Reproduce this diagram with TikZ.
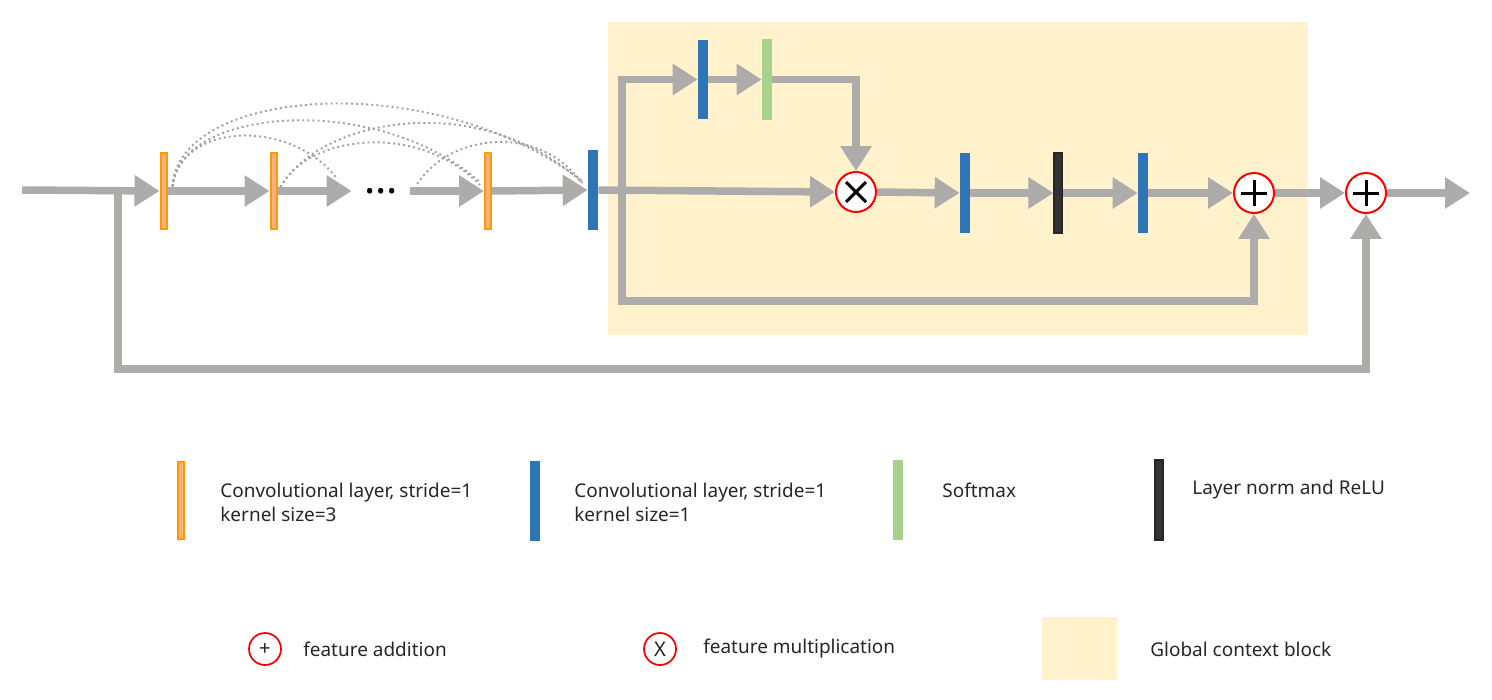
\documentclass[tikz,border=0pt]{standalone}
\usepackage{fontspec}
\setmainfont{Noto Sans}
\usetikzlibrary{arrows.meta}

\definecolor{flowgray}{RGB}{174,171,171}
\definecolor{skipgray}{RGB}{160,160,160}
\definecolor{convorange}{RGB}{255,153,0}
\definecolor{convlight}{RGB}{244,177,131}
\definecolor{pwblue}{RGB}{46,117,182}
\definecolor{softgreen}{RGB}{169,209,142}
\definecolor{normblack}{RGB}{51,51,51}
\definecolor{gcbeige}{RGB}{255,242,204}
\definecolor{textdark}{RGB}{38,38,38}

\tikzset{
  bar/.style={rectangle, inner sep=0, minimum width=0.2cm, minimum height=1.6cm},
  kthree/.style={bar, draw=convorange, fill=convlight, line width=0.04cm, minimum width=0.12cm, minimum height=1.54cm},
  kone/.style={bar, fill=pwblue},
  softbar/.style={bar, fill=softgreen, minimum height=1.62cm},
  normbar/.style={bar, fill=normblack, draw=black!85, line width=0.6pt, minimum width=0.16cm},
  op/.style={circle, draw=red, fill=white, line width=0.04cm, minimum size=0.8cm, inner sep=0},
  lgop/.style={circle, draw=red, fill=white, line width=0.035cm, minimum size=0.64cm, inner sep=0,
    font=\fontsize{11.5}{12}\selectfont, text=textdark},
  sign/.style={line width=0.06cm, black},
  flow/.style={draw=flowgray, line width=0.15cm, -{Triangle[length=0.5cm, width=0.6cm]}},
  skiparc/.style={draw=skipgray, line width=1.1pt, dash pattern=on 1.1pt off 1.8pt},
  dotsbox/.style={inner sep=0, minimum width=1.16cm, font=\fontsize{24}{24}\selectfont\bfseries},
  legtext/.style={anchor=west, inner sep=0, align=left, text=textdark,
    font=\fontsize{10.8}{13.6}\selectfont}
}

\begin{document}
\begin{tikzpicture}[x=0.02cm, y=-0.02cm]
    \useasboundingbox (0,0) rectangle (1492,700);
    % 1. Global context block background
    \fill[gcbeige] (608,22) rectangle (1308,335);

    % 2. Layers
    \node[kthree] (conv1) at (163.5,191) {};
    \node[kthree] (conv2) at (273.5,191) {};
    \node[dotsbox] (dots) at (381,191) {...};
    \node[kthree] (conv3) at (488,191) {};
    \node[kone] (pw0) at (593,190) {};
    \node[kone] (pwa) at (703,79.5) {};
    \node[softbar] (soft) at (767,79.5) {};
    \node[op] (mul) at (856,192) {};
    \node[kone] (pwb) at (965,193) {};
    \node[normbar] (norm) at (1058,193) {};
    \node[kone] (pwc) at (1143,193) {};
    \node[op] (add1) at (1254,193) {};
    \node[op] (add2) at (1366,193) {};

    \coordinate (in) at (22,190);
    \coordinate (tap) at (118,190);
    \coordinate (low) at (118,369);
    \coordinate (split) at (622,191);
    \coordinate (gclow) at (622,301);
    \coordinate (out) at (1470,193);

    % 3. Dense skip links (dotted)
    \draw[skiparc] ([shift={(0.1cm,0.1cm)}]conv1.east) .. controls (178,88) and (433,66) .. ([shift={(-0.08cm,0.16cm)}]pw0.west);
    \draw[skiparc] ([shift={(0.1cm,0.1cm)}]conv1.east) .. controls (180,106) and (380,92) .. ([shift={(-0.06cm,0.16cm)}]conv3.west);
    \draw[skiparc] ([shift={(0.1cm,0.08cm)}]conv1.east) .. controls (180,122) and (290,118) .. ([shift={(-0.3cm,0.26cm)}]dots.west);
    \draw[skiparc] ([shift={(0.06cm,0.08cm)}]conv2.east) .. controls (320,118) and (480,88) .. ([shift={(-0.1cm,0.14cm)}]pw0.west);
    \draw[skiparc] ([shift={(0.06cm,0.08cm)}]conv2.east) .. controls (310,133) and (420,123) .. ([shift={(-0.08cm,0.12cm)}]conv3.west);
    \draw[skiparc] ([shift={(0.14cm,0.14cm)}]dots.east) .. controls (450,133) and (540,123) .. ([shift={(-0.1cm,0.12cm)}]pw0.west);

    % 4. Main flow
    \draw[flow] (in) -- (conv1.west);
    \draw[flow] (tap) -- (low) -| (add2.south);
    \draw[flow] (conv1.east) -- (conv2.west);
    \draw[flow] (conv2.east) -- (dots.west);
    \draw[flow] (dots.east) -- (conv3.west);
    \draw[flow] (conv3.east) -- (pw0.west);
    \draw[flow] (pw0.east) -- (mul.west);

    % 5. Global context block
    \draw[flow] (split) -- (gclow) -| (add1.south);
    \draw[flow] (split) |- (pwa.west);
    \draw[flow] (pwa.east) -- (soft.west);
    \draw[flow] (soft.east) -| (mul.north);
    \draw[flow] (mul.east) -- (pwb.west);
    \draw[flow] (pwb.east) -- (norm.west);
    \draw[flow] (norm.east) -- (pwc.west);
    \draw[flow] (pwc.east) -- (add1.west);
    \draw[flow] (add1.east) -- (add2.west);
    \draw[flow] (add2.east) -- (out);

    % 6. Signs in the operators
    \foreach \op in {add1,add2} {
        \draw[sign] ([xshift=-0.26cm]\op.center) -- ([xshift=0.26cm]\op.center);
        \draw[sign] ([yshift=-0.26cm]\op.center) -- ([yshift=0.26cm]\op.center);
    }
    \draw[sign] ([shift={(-0.2cm,-0.2cm)}]mul.center) -- ([shift={(0.2cm,0.2cm)}]mul.center);
    \draw[sign] ([shift={(-0.2cm,0.2cm)}]mul.center) -- ([shift={(0.2cm,-0.2cm)}]mul.center);

    % 7. Legend
    \node[kthree] (lgconv3) at (180.5,500.5) {};
    \node[legtext] (lgconv3txt) at (220,502) {Convolutional layer, stride=1\\kernel size=3};
    \node[kone] (lgconv1) at (535,501) {};
    \node[legtext] (lgconv1txt) at (574,502) {Convolutional layer, stride=1\\kernel size=1};
    \node[softbar] (lgsoft) at (898,500) {};
    \node[legtext] (lgsofttxt) at (942,490) {Softmax};
    \node[normbar] (lgnorm) at (1159,500) {};
    \node[legtext] (lgnormtxt) at (1192,490) {Layer norm and ReLU};
    \node[lgop] (lgadd) at (265,649) {+};
    \node[legtext] (lgaddtxt) at (303,649) {feature addition};
    \node[lgop] (lgmul) at (660,649) {X};
    \node[legtext] (lgmultxt) at (703,649) {feature multiplication};
    \node[fill=gcbeige, inner sep=0, minimum width=1.5cm, minimum height=1.26cm] (lggc) at (1079.5,648.5) {};
    \node[legtext] (lggctxt) at (1150,649) {Global context block};
\end{tikzpicture}
\end{document}
